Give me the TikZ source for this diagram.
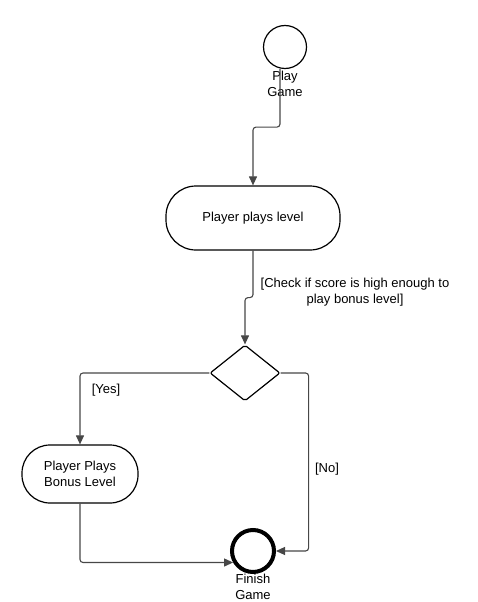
\documentclass[tikz,border=0pt]{standalone}
\usepackage{fontspec}
\setmainfont{Liberation Sans}
\usepackage{tikz}
\usetikzlibrary{shapes.geometric, arrows.meta, positioning}

\begin{document}
\begin{tikzpicture}[x=1pt,y=-1pt,font=\fontsize{13}{16}\selectfont]
        \useasboundingbox (0,0) rectangle (477,602);
        \begin{scope}[every node/.style={draw,line width=1.2pt}]
          \node[circle,minimum size=43pt,inner sep=0pt] (start) at (285,47) {};
          \node[rounded corners=30pt,minimum width=174pt,minimum height=64pt] (level) at (253,218) {Player plays level};
          \node[diamond,rounded corners=2pt,minimum width=70pt,minimum height=56pt,inner sep=0pt] (dec) at (245,373) {};
          \node[rounded corners=28pt,minimum width=116pt,minimum height=58pt,align=center] (bonus) at (80,474) {Player Plays\\Bonus Level};
          \node[circle,line width=4pt,minimum size=42pt,inner sep=0pt] (end) at (253,551) {};
        \end{scope}
        \begin{scope}[every node/.style={align=center,inner sep=1pt}]
          \node (startlbl) at (285,84) {Play\\Game};
          \node (checklbl) at (355,292) {[Check if score is high enough to\\play bonus level]};
          \node (yeslbl) at (106,390) {[Yes]};
          \node (nolbl) at (327,469) {[No]};
          \node (endlbl) at (253,587) {Finish\\Game};
        \end{scope}
        \begin{scope}[every path/.style={draw=black!72,line width=1.1pt,rounded corners=3pt,-{Triangle[length=9pt,width=8pt]}}]
          \path ([xshift=-5pt]start.south) -- ++(0,58) -| (level.north);
          \path (level.south) -- ++(0,47) -| (dec.north);
          \path (dec.west) -| (bonus.north);
          \path (bonus.south) |- (end.210);
          %\path (dec.south) -- (end.north);
          \path (dec.east) -- ++(28,0) |- (end.east);
        \end{scope}
      \end{tikzpicture}
\end{document}
